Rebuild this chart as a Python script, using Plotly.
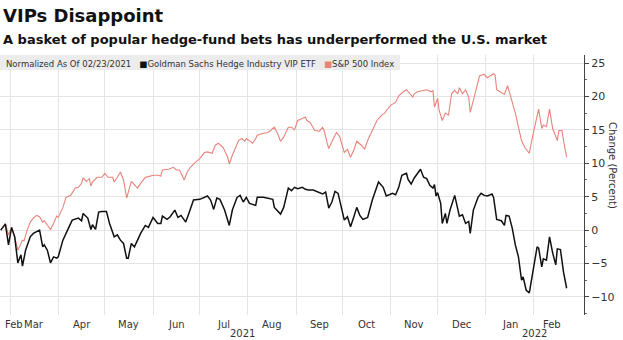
import pandas as pd
import plotly.graph_objects as go

# Performance since the normalization date (02/23/2021), in percent.
# Trading days are given as calendar-day offsets from that date.
base_date = pd.Timestamp("2021-02-23")

vip_days = [0, 3, 5, 7, 9, 11, 13, 14, 16, 19, 21, 25, 27, 28, 30, 32, 34, 36, 37, 40,
            43, 46, 50, 52, 53, 56, 58, 59, 61, 63, 65, 68, 70, 73, 75, 77, 79, 81, 82, 84,
            86, 88, 90, 93, 95, 98, 101, 103, 104, 107, 109, 112, 114, 116, 119, 121, 124, 128, 133, 135,
            137, 139, 141, 144, 147, 149, 152, 154, 156, 158, 160, 164, 165, 169, 172, 175, 176, 180, 182, 184,
            185, 187, 189, 191, 194, 196, 198, 201, 204, 207, 209, 211, 213, 215, 217, 220, 221, 223, 225, 227,
            229, 231, 233, 236, 239, 243, 245, 246, 248, 252, 254, 256, 258, 261, 262, 264, 266, 268, 270, 272,
            274, 276, 278, 279, 280, 281, 283, 284, 286, 287, 289, 292, 294, 295, 297, 299, 301, 302, 304, 307,
            309, 311, 313, 316, 317, 319, 322, 324, 325, 327, 329, 331, 333, 335, 336, 338, 340, 342, 345, 346,
            348, 349, 351, 353, 355, 357, 358, 360, 362, 364]
vip_change = [0.0, 0.9, -2.2, 0.4, -1.0, -4.9, -3.7, -5.4, -3.0, -1.0, -0.5, 0.0, -2.5, -2.2, -3.0, -4.9, -4.0, -4.2, -4.0, -1.5,
              0.0, 1.5, 1.8, 1.4, 2.5, 1.8, 0.1, 0.8, 0.1, 2.7, 2.8, 2.8, 1.0, -1.0, -0.7, -1.5, -2.0, -4.2, -4.2, -2.0,
              -2.5, -1.5, -0.5, 0.7, 0.4, 1.9, 1.0, 1.0, 2.1, 1.6, 2.0, 3.0, 1.9, 2.2, 1.2, 2.5, 4.5, 4.6, 5.1, 4.5,
              3.1, 4.8, 4.6, 3.0, 0.7, 3.0, 4.9, 5.2, 4.2, 4.9, 4.0, 3.7, 4.9, 4.9, 4.8, 4.6, 3.4, 2.4, 3.4, 5.7,
              6.3, 5.9, 6.4, 6.2, 6.4, 6.1, 6.0, 6.0, 5.7, 5.4, 5.7, 3.3, 4.2, 5.8, 5.5, 2.5, 1.5, 2.0, 0.5, 1.9,
              3.4, 2.2, 1.6, 1.9, 4.5, 7.2, 6.7, 6.4, 5.1, 5.5, 5.3, 6.4, 8.2, 8.5, 7.6, 6.9, 7.8, 8.5, 9.1, 7.9,
              7.7, 6.7, 6.3, 6.8, 5.1, 5.6, 4.0, 1.0, 2.5, 1.0, 3.0, 5.2, 3.4, 2.1, 2.3, 1.0, 1.3, -0.5, 3.0, 4.9,
              5.5, 5.2, 5.1, 5.4, 4.9, 1.6, 1.4, 0.7, 2.2, 2.1, 0.3, -2.2, -4.0, -7.5, -7.0, -9.0, -9.4, -6.4, -2.5, -2.7,
              -5.5, -4.3, -4.5, -1.0, -3.4, -5.2, -2.8, -2.9, -6.3, -8.7]

spx_days = [0, 3, 5, 7, 9, 11, 14, 15, 17, 19, 21, 23, 25, 27, 28, 30, 32, 34, 36, 37,
            40, 42, 45, 48, 50, 52, 53, 55, 57, 58, 59, 62, 65, 67, 69, 72, 73, 75, 77, 79,
            81, 84, 86, 88, 90, 93, 95, 98, 101, 103, 104, 108, 111, 113, 115, 118, 120, 122, 125, 128,
            131, 133, 136, 138, 140, 143, 146, 147, 149, 151, 153, 155, 157, 158, 162, 164, 165, 169, 172, 176,
            178, 180, 182, 185, 187, 189, 191, 194, 196, 197, 199, 202, 205, 207, 208, 210, 211, 214, 216, 218,
            220, 221, 223, 225, 227, 229, 232, 234, 236, 239, 242, 245, 247, 248, 251, 254, 256, 259, 261, 265,
            266, 268, 271, 274, 277, 278, 279, 281, 282, 284, 286, 288, 290, 292, 294, 295, 297, 299, 301, 302,
            304, 306, 308, 311, 313, 317, 318, 319, 322, 324, 326, 328, 331, 333, 335, 337, 340, 342, 344, 346,
            348, 349, 351, 353, 355, 358, 359, 361, 362, 364]
spx_change = [0.0, 1.0, -0.7, 0.4, -1.0, -3.0, -1.5, -1.6, 0.0, 1.2, 1.8, 2.2, 2.0, 1.2, 1.4, 0.7, 0.1, 1.0, 2.1, 1.9,
              3.4, 4.9, 5.2, 6.3, 6.4, 7.0, 7.8, 7.3, 7.7, 6.6, 7.2, 7.9, 7.9, 8.5, 7.9, 7.9, 7.2, 7.9, 8.7, 7.5,
              4.8, 7.3, 6.8, 6.3, 7.0, 7.9, 8.0, 8.2, 8.2, 8.1, 9.0, 9.1, 9.4, 9.0, 9.0, 7.5, 8.7, 9.4, 10.1, 10.7,
              11.6, 11.7, 11.5, 12.7, 13.0, 12.4, 10.9, 9.9, 11.2, 12.2, 13.4, 13.7, 13.3, 13.7, 13.0, 13.7, 14.2, 14.5, 14.6, 15.4,
              14.5, 13.3, 13.9, 15.4, 15.4, 15.0, 16.4, 16.7, 16.9, 16.4, 16.1, 14.9, 14.8, 15.4, 14.9, 13.0, 12.2, 13.7, 14.6, 14.0,
              12.1, 11.6, 12.1, 10.9, 11.9, 13.3, 12.7, 12.1, 13.4, 14.9, 16.4, 17.2, 17.5, 17.9, 18.7, 19.1, 20.1, 20.7, 21.0, 19.9,
              20.4, 20.7, 20.9, 21.0, 20.7, 20.9, 18.4, 19.7, 17.9, 16.4, 17.5, 17.2, 20.4, 20.9, 20.4, 21.3, 20.4, 21.0, 19.9, 17.6,
              19.4, 21.5, 23.1, 23.3, 22.8, 23.4, 23.2, 21.0, 20.6, 20.3, 21.6, 20.1, 17.5, 15.4, 13.4, 12.4, 11.5, 13.9, 16.1, 18.1,
              15.2, 15.7, 15.5, 18.1, 15.2, 13.4, 14.9, 14.9, 13.4, 10.9]

month_labels = ["Mar", "Apr", "May", "Jun", "Jul", "Aug", "Sep", "Oct", "Nov", "Dec", "Jan", "Feb"]
y_ticks = [-10, -5, 0, 5, 10, 15, 20, 25]

BLACK = "#111111"
SALMON = "#e8837b"
GRID = "#e4e4e4"
TEXT = "#333333"
FONT = "DejaVu Sans"

vip_dates = base_date + pd.to_timedelta(vip_days, unit="D")
spx_dates = base_date + pd.to_timedelta(spx_days, unit="D")

x_start = pd.Timestamp("2021-02-22 13:00")
x_end = pd.Timestamp("2022-03-05 04:00")

fig = go.Figure()
fig.add_trace(go.Scatter(x=spx_dates, y=spx_change, mode="lines",
                         line=dict(color=SALMON, width=1.1), name="S&P 500 Index"))
fig.add_trace(go.Scatter(x=vip_dates, y=vip_change, mode="lines",
                         line=dict(color=BLACK, width=1.5), name="Goldman Sachs Hedge Industry VIP ETF"))

month_starts = pd.date_range("2021-03-01", "2022-02-01", freq="MS")

fig.update_layout(
    width=623, height=340,
    margin=dict(l=0, r=39, t=55, b=25),
    paper_bgcolor="white", plot_bgcolor="white",
    showlegend=False,
    font=dict(family=FONT, color=TEXT),
    xaxis=dict(range=[x_start, x_end], tickvals=month_starts, showticklabels=False,
               showgrid=True, gridcolor=GRID, gridwidth=1, zeroline=False, ticks="",
               showline=False),
    yaxis=dict(range=[-12.7, 26.2], side="right", tickvals=y_ticks,
               showgrid=True, gridcolor=GRID, gridwidth=1, zeroline=False,
               showline=True, linecolor="#444444", linewidth=1,
               ticks="outside", ticklen=4, tickcolor="#444444",
               tickfont=dict(size=11, color=TEXT, family=FONT),
               minor=dict(tickvals=[v + 2.5 for v in y_ticks[:-1]] + [-12.5],
                          ticks="outside", ticklen=2, tickcolor="#666666", showgrid=False)),
)

annotations = []
label_font = dict(size=10, color=TEXT, family=FONT)
# month labels centred on the middle of each month
for m_start, label in zip(month_starts, month_labels):
    m_end = m_start + pd.offsets.MonthBegin(1)
    mid = m_start + (min(m_end, pd.Timestamp("2022-02-24")) - m_start) / 2
    annotations.append(dict(x=mid, y=0, xref="x", yref="paper", text=label, showarrow=False,
                            xanchor="center", yanchor="middle", yshift=-9, font=label_font))
annotations.append(dict(x=0, y=0, xref="paper", yref="paper", text="Feb", showarrow=False,
                        xanchor="left", yanchor="middle", xshift=3, yshift=-9, font=label_font))
# year labels centred on each year's visible span
for year_start, year_end, label in [(x_start, pd.Timestamp("2022-01-01"), "2021"),
                                    (pd.Timestamp("2022-01-01"), x_end, "2022")]:
    annotations.append(dict(x=year_start + (year_end - year_start) / 2, y=0, xref="x", yref="paper",
                            text=label, showarrow=False, xanchor="center", yanchor="middle",
                            yshift=-18.5, font=label_font))

# legend strip
legend_text = ("Normalized As Of 02/23/2021   "
               f"<span style='color:{BLACK}'>■</span>Goldman Sachs Hedge Industry VIP ETF   "
               f"<span style='color:{SALMON}'>■</span>S&P 500 Index")
annotations.append(dict(x=0, y=1, xref="paper", yref="paper", text=legend_text, showarrow=False,
                        xanchor="left", yanchor="top", xshift=4, yshift=-2,
                        font=dict(size=8.5, color=TEXT, family=FONT)))

# axis title, reading top to bottom
annotations.append(dict(x=1, y=0.577, xref="paper", yref="paper", text="Change (Percent)",
                        textangle=90, showarrow=False, xanchor="center", yanchor="middle",
                        xshift=28, font=dict(size=10, color=TEXT, family=FONT)))

# headline and subtitle
annotations.append(dict(x=0, y=1, xref="paper", yref="paper", text="<b>VIPs Disappoint</b>",
                        showarrow=False, xanchor="left", yanchor="middle", xshift=1, yshift=40,
                        font=dict(size=18, color="#111111", family=FONT)))
annotations.append(dict(x=0, y=1, xref="paper", yref="paper",
                        text="<b>A basket of popular hedge-fund bets has underperformed the U.S. market</b>",
                        showarrow=False, xanchor="left", yanchor="middle", xshift=1, yshift=16,
                        font=dict(size=13, color="#111111", family=FONT)))

fig.update_layout(annotations=annotations)
fig.add_shape(type="rect", xref="paper", yref="paper", x0=0, x1=400 / 584, y0=1 - 15 / 260, y1=1,
              fillcolor="#ececec", line=dict(width=0), layer="above")

fig.write_html("out.html")
